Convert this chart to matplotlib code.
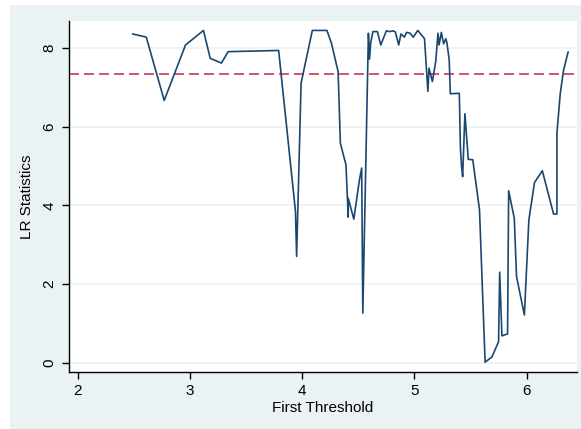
import matplotlib
matplotlib.use("Agg")
import matplotlib.pyplot as plt
from matplotlib.patches import Rectangle

plt.rcParams['font.family'] = ['Liberation Sans', 'DejaVu Sans']

# LR statistics by first threshold value
threshold = [2.49, 2.61, 2.77, 2.96, 3.12, 3.18, 3.28, 3.34, 3.79, 3.94, 3.95, 3.99,
             4.09, 4.22, 4.26, 4.32, 4.34, 4.39, 4.41, 4.41, 4.46, 4.51, 4.53, 4.54,
             4.59, 4.60, 4.61, 4.63, 4.67, 4.70, 4.75, 4.78, 4.81, 4.83, 4.86, 4.88,
             4.91, 4.93, 4.96, 4.99, 5.03, 5.05, 5.09, 5.12, 5.13, 5.16, 5.19, 5.21,
             5.22, 5.24, 5.26, 5.28, 5.29, 5.31, 5.32, 5.40, 5.41, 5.42, 5.43, 5.45,
             5.48, 5.52, 5.58, 5.63, 5.69, 5.75, 5.76, 5.78, 5.83, 5.84, 5.89, 5.91,
             5.98, 6.02, 6.07, 6.14, 6.24, 6.27, 6.27, 6.30, 6.33, 6.37]
lr_stat = [8.36, 8.28, 6.67, 8.08, 8.45, 7.74, 7.62, 7.91, 7.94, 3.84, 2.70, 7.11,
           8.45, 8.45, 8.13, 7.40, 5.58, 5.03, 3.70, 4.18, 3.65, 4.65, 4.95, 1.26,
           8.38, 7.72, 8.13, 8.42, 8.42, 8.08, 8.44, 8.42, 8.44, 8.41, 8.08, 8.36,
           8.28, 8.40, 8.38, 8.28, 8.45, 8.38, 8.24, 6.90, 7.49, 7.15, 7.66, 8.38,
           8.08, 8.40, 8.11, 8.24, 8.13, 7.70, 6.84, 6.85, 5.46, 4.99, 4.73, 6.33,
           5.17, 5.16, 3.89, 0.01, 0.14, 0.53, 2.30, 0.68, 0.73, 4.37, 3.67, 2.19,
           1.21, 3.63, 4.58, 4.88, 3.78, 3.78, 5.84, 6.85, 7.45, 7.90]
critical_value = 7.35

bg = '#EAF2F3'

fig = plt.figure(figsize=(5.81, 4.29), dpi=100, facecolor='white')
fig.patches.append(Rectangle((10 / 581, 0), 1, 1 - 5 / 429, transform=fig.transFigure,
                             facecolor=bg, edgecolor='none', zorder=-1))
ax = fig.add_axes([68.5 / 581, 57 / 429, 508.5 / 581, 351 / 429])
ax.set_facecolor('white')

ax.plot(threshold, lr_stat, color='#1A476F', lw=1.2, zorder=3)
ax.axhline(critical_value, color='#C8385A', lw=1.2, ls=(0, (6, 3)), zorder=2)

ax.set_xlim(1.917, 6.449)
ax.set_ylim(-0.24, 8.69)
ax.set_xticks([2, 3, 4, 5, 6])
ax.set_yticks([0, 2, 4, 6, 8])
ax.grid(axis='y', color=bg, lw=1.2)
ax.set_axisbelow(True)

for s in ['top', 'right']:
    ax.spines[s].set_visible(False)
for s in ['left', 'bottom']:
    ax.spines[s].set_color('black')
    ax.spines[s].set_linewidth(1.0)

ax.tick_params(direction='out', length=5, width=1, labelsize=11, colors='black')
for lab in ax.get_yticklabels():
    lab.set_rotation(90)
    lab.set_va('center')

ax.set_xlabel('First Threshold', fontsize=11, labelpad=2)
ax.set_ylabel('LR Statistics', fontsize=11, labelpad=6)

fig.savefig('out.png', dpi=100, facecolor=fig.get_facecolor())
